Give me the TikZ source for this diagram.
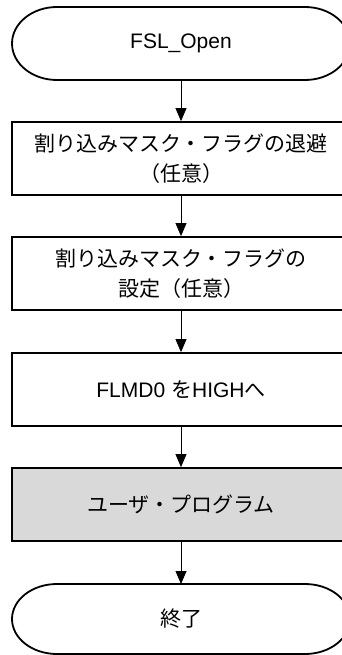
\documentclass[tikz,border=0pt]{standalone}
\usepackage{fontspec}
\setmainfont{Liberation Sans}
\newfontfamily\jp{Noto Sans CJK JP}
\usetikzlibrary{arrows.meta}
\definecolor{boxgray}{RGB}{217,217,217}
\tikzset{
  stepbox/.style={draw=black, line width=1.8pt, minimum width=338pt, minimum height=73pt, inner sep=0pt, align=center, font=\fontsize{21}{30}\selectfont},
  termtext/.style={inner sep=0pt, align=center, font=\fontsize{21}{30}\selectfont},
  flow/.style={draw=black, line width=0.8pt, -{Triangle[length=13pt,width=11pt]}},
  termline/.style={draw=black, line width=1.8pt}
}
\begin{document}
\begin{tikzpicture}[x=1pt,y=-1pt]
\useasboundingbox (0,0) rectangle (342,655);
\clip (0,0) rectangle (342,655);
% start terminal
\draw[termline] (57,7) -- (305,7) arc[start angle=-90,end angle=90,x radius=45,y radius=36.5] -- (57,80) arc[start angle=90,end angle=270,x radius=45,y radius=36.5] -- cycle;
\node[termtext] (start) at (181,43.5) {FSL\_Open};
\coordinate (startb) at (181,80);
% boxes
\node[stepbox] (b1) at (181,158.5) {{\jp 割り込みマスク・フラグの退避}\\{\jp （任意）}};
\node[stepbox] (b2) at (181,273.5) {{\jp 割り込みマスク・フラグの}\\{\jp 設定（任意）}};
\node[stepbox] (b3) at (181,389.5) {FLMD0 {\jp を}HIGH{\jp へ}};
\node[stepbox, fill=boxgray] (b4) at (181,504.5) {{\jp ユーザ・プログラム}};
% end terminal
\draw[termline] (57,584) -- (305,584) arc[start angle=-90,end angle=90,x radius=45,y radius=35] -- (57,654) arc[start angle=90,end angle=270,x radius=45,y radius=35] -- cycle;
\node[termtext] (end) at (181,619) {\jp 終了};
\coordinate (endt) at (181,584);
% connectors
\draw[flow] (startb) -- (b1.north);
\draw[flow] (b1.south) -- (b2.north);
\draw[flow] (b2.south) -- (b3.north);
\draw[flow] (b3.south) -- (b4.north);
\draw[flow] (b4.south) -- (endt);
\end{tikzpicture}
\end{document}
